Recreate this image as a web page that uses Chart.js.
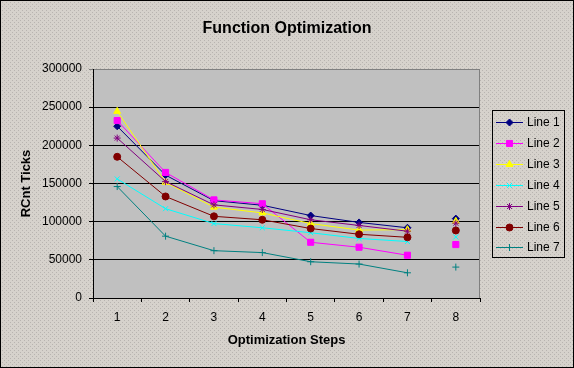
<!DOCTYPE html>
<html>
<head>
<meta charset="utf-8">
<script src="https://cdn.jsdelivr.net/npm/chart.js"></script>
<style>
  html, body { margin: 0; padding: 0; background: #D4D0C8; }
  #wrap { width: 574px; height: 368px; position: relative; }
  canvas { display: block; }
</style>
</head>
<body>
<div id="wrap"><canvas id="c" width="574" height="368"></canvas></div>
<script>
// ---- data ----
const categories = ['1', '2', '3', '4', '5', '6', '7', '8'];
const yTickLabels = ['0', '50000', '100000', '150000', '200000', '250000', '300000'];
const seriesNames = ['Line 1', 'Line 2', 'Line 3', 'Line 4', 'Line 5', 'Line 6', 'Line 7'];
const line1 = [225000, 161000, 127500, 121500, 108000, 99000, 92000, 104000];
const line2 = [232500, 164500, 128500, 123500, 73000, 66500, 56000, 70000];
const line3 = [244500, 151500, 119000, 111500, 97500, 89000, 89500, 100500];
const line4 = [156000, 117000, 97500, 92000, 85500, 78000, 74000, 80000];
const line5 = [209500, 152500, 122000, 116000, 102500, 95000, 87500, 98000];
const line6 = [185000, 133000, 107000, 102500, 91000, 83500, 79500, 88500];
const line7 = [146000, 81000, 62000, 59500, 47500, 44500, 33000, 40500];

// ---- styles ----
const colors = ['#000080', '#FF00FF', '#FFFF00', '#00FFFF', '#800080', '#800000', '#008080'];
const pointStyles = ['rectRot', 'rect', 'triangle', 'crossRot', 'star', 'circle', 'cross'];
const pointRadii = [3.5, 4.3, 4, 3.5, 3.5, 3.5, 3.5];
const FONT = "'Liberation Sans', Arial, sans-serif";

const seriesValues = [line1, line2, line3, line4, line5, line6, line7];

const datasets = seriesValues.map((vals, i) => ({
  label: seriesNames[i],
  data: vals,
  borderColor: colors[i],
  backgroundColor: colors[i],
  borderWidth: 1,
  pointStyle: pointStyles[i],
  pointRadius: pointRadii[i],
  pointBorderWidth: 1,
  pointBackgroundColor: colors[i],
  pointBorderColor: colors[i],
  tension: 0,
  fill: false,
  order: 7 - i,
  segment: {
    borderColor: ctx => ctx.p1DataIndex === 7 ? 'rgba(0,0,0,0)' : undefined
  }
}));

// background texture
function makePattern(ctx) {
  const t = document.createElement('canvas');
  t.width = 4; t.height = 4;
  const g = t.getContext('2d');
  g.fillStyle = '#D6D2CC';
  g.fillRect(0, 0, 4, 4);
  g.fillStyle = '#B8B4B0';
  g.fillRect(0, 0, 1, 1);
  g.fillRect(2, 2, 1, 1);
  return ctx.createPattern(t, 'repeat');
}

const decor = {
  id: 'decor',
  beforeDraw(chart) {
    const ctx = chart.ctx;
    const a = chart.chartArea;
    ctx.save();
    ctx.fillStyle = makePattern(ctx);
    ctx.fillRect(0, 0, chart.width, chart.height);
    ctx.fillStyle = '#C0C0C0';
    ctx.fillRect(a.left, a.top, a.right - a.left, a.bottom - a.top);
    ctx.restore();
  },
  beforeDatasetsDraw(chart) {
    const ctx = chart.ctx;
    const a = chart.chartArea;
    ctx.save();
    ctx.strokeStyle = '#808080';
    ctx.lineWidth = 1;
    ctx.beginPath();
    ctx.moveTo(Math.round(a.right) - 0.5, a.top);
    ctx.lineTo(Math.round(a.right) - 0.5, a.bottom);
    ctx.stroke();
    ctx.restore();
  },
  afterDraw(chart) {
    const ctx = chart.ctx;
    ctx.save();
    // title
    ctx.fillStyle = '#000';
    ctx.font = 'bold 16px ' + FONT;
    ctx.textAlign = 'center';
    ctx.textBaseline = 'middle';
    ctx.fillText('Function Optimization', 287, 29);
    // legend box
    ctx.strokeStyle = '#000';
    ctx.lineWidth = 1;
    ctx.strokeRect(492.5, 110.5, 72, 147);
    ctx.font = '12px ' + FONT;
    ctx.textAlign = 'left';
    chart.data.datasets.forEach((ds, i) => {
      const y = Math.round(122.3 + i * 20.85) + 0.5;
      ctx.strokeStyle = ds.borderColor;
      ctx.lineWidth = 1;
      ctx.beginPath();
      ctx.moveTo(496, y);
      ctx.lineTo(523, y);
      ctx.stroke();
      const opts = {
        pointStyle: ds.pointStyle, radius: ds.pointRadius, rotation: 0,
        borderWidth: 1
      };
      ctx.fillStyle = ds.backgroundColor;
      ctx.strokeStyle = ds.borderColor;
      if (Chart.helpers && Chart.helpers.drawPoint) {
        Chart.helpers.drawPoint(ctx, opts, 509.5, y);
      } else {
        ctx.beginPath(); ctx.arc(509.5, y, 3, 0, Math.PI * 2); ctx.fill();
      }
      ctx.fillStyle = '#000';
      ctx.fillText(ds.label, 527, y);
    });
    // outer border
    ctx.strokeStyle = '#000';
    ctx.strokeRect(0.5, 0.5, chart.width - 1, chart.height - 1);
    ctx.restore();
  }
};

new Chart(document.getElementById('c'), {
  type: 'line',
  data: { labels: categories, datasets },
  options: {
    responsive: false,
    animation: false,
    layout: { padding: { left: 0, right: 94, top: 69, bottom: 0 } },
    plugins: {
      legend: { display: false },
      title: { display: false },
      tooltip: { enabled: false }
    },
    scales: {
      x: {
        type: 'category',
        offset: true,
        grid: {
          offset: true,
          drawOnChartArea: false,
          drawTicks: true,
          tickLength: 4,
          color: '#000'
        },
        border: { display: true, color: '#000', width: 1 },
        ticks: {
          color: '#000',
          font: { family: FONT, size: 12 },
          padding: 8,
          maxRotation: 0,
          autoSkip: false
        },
        title: {
          display: true,
          text: 'Optimization Steps',
          color: '#000',
          font: { family: FONT, size: 13, weight: 'bold' },
          padding: { top: 0, bottom: 20 }
        },
        afterFit(scale) { scale.height = 70; }
      },
      y: {
        min: 0,
        max: 300000,
        ticks: {
          stepSize: 50000,
          color: '#000',
          font: { family: FONT, size: 12 },
          padding: 7,
          callback: (v, i) => yTickLabels[i]
        },
        grid: {
          color: ctx => (ctx.tick && ctx.tick.value === 300000) ? '#808080' : '#000',
          lineWidth: 1,
          drawTicks: true,
          tickLength: 4
        },
        border: { display: true, color: '#000', width: 1 },
        title: {
          display: true,
          text: 'RCnt Ticks',
          color: '#000',
          font: { family: FONT, size: 13, weight: 'bold' },
          padding: { top: 19, bottom: 0 }
        },
        afterFit(scale) { scale.width = 93; }
      }
    }
  },
  plugins: [decor]
});
</script>
</body>
</html>
